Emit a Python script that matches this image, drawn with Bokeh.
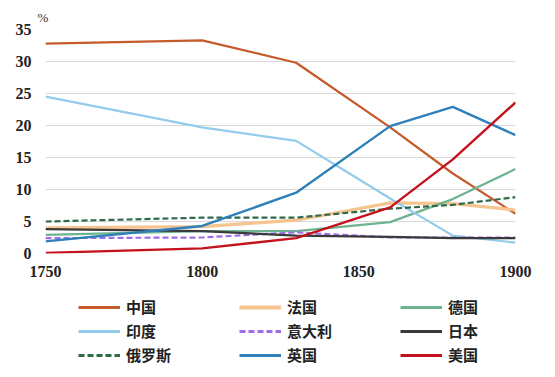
from bokeh.plotting import figure
from bokeh.layouts import column
from bokeh.models import Legend, LegendItem, Range1d, FixedTicker, Title
from bokeh.embed import file_html
from bokeh.resources import INLINE

years = [1750, 1800, 1830, 1860, 1880, 1900]
china = [32.8, 33.3, 29.8, 19.7, 12.5, 6.2]
france = [4.0, 4.2, 5.2, 7.9, 7.8, 6.8]
germany = [2.9, 3.5, 3.5, 4.9, 8.5, 13.2]
india = [24.5, 19.7, 17.6, 8.6, 2.8, 1.7]
italy = [2.4, 2.5, 3.3, 2.5, 2.5, 2.5]
japan = [3.8, 3.5, 2.8, 2.6, 2.4, 2.4]
russia = [5.0, 5.6, 5.6, 7.0, 7.6, 8.8]
uk = [1.9, 4.3, 9.5, 19.9, 22.9, 18.5]
usa = [0.1, 0.8, 2.4, 7.2, 14.7, 23.6]

names = ["中国", "法国", "德国", "印度", "意大利", "日本", "俄罗斯", "英国", "美国"]
series = [china, france, germany, india, italy, japan, russia, uk, usa]
colors = ["#C55A2B", "#F6C48F", "#6DB391", "#92CBEB", "#9F6CEA", "#3A3A3A", "#2F6B4B", "#2E80BA", "#C4121C"]
widths = [2.2, 3.2, 2.2, 2.2, 2.2, 2.2, 2.2, 2.4, 2.4]
dashes = ["solid", "solid", "solid", "solid", "6 3", "solid", "6 3", "solid", "solid"]

p = figure(width=555, height=290, output_backend="svg", toolbar_location=None,
           x_range=Range1d(1750, 1900), y_range=Range1d(0, 35),
           min_border_left=45, min_border_right=40, min_border_top=29, min_border_bottom=37)
p.outline_line_color = None
p.xgrid.grid_line_color = None
p.ygrid.grid_line_color = "#D9D9D9"
p.ygrid.grid_line_width = 1.2
p.yaxis.ticker = FixedTicker(ticks=[0, 5, 10, 15, 20, 25, 30, 35])
p.xaxis.ticker = FixedTicker(ticks=[1750, 1800, 1850, 1900])
for ax in (p.xaxis, p.yaxis):
    ax.axis_line_color = None
    ax.major_tick_line_color = None
    ax.minor_tick_line_color = None
    ax.major_label_text_font = "Liberation Serif"
    ax.major_label_text_font_size = "16px"
    ax.major_label_text_color = "#222222"
    ax.major_label_text_font_style = "bold"
p.yaxis.major_label_standoff = 8
p.xaxis.major_label_standoff = 6

for s, c, w, d in zip(series, colors, widths, dashes):
    p.line(years, s, line_color=c, line_width=w, line_dash=d)

p.add_layout(Title(text="%", align="left", offset=-8, text_font="Liberation Serif",
                   text_font_size="13px", text_font_style="normal",
                   text_color="#333333"), "above")

# legend figure (series drawn out of its view; only the legend shows)
lg = figure(width=555, height=87, output_backend="svg", toolbar_location=None,
            x_axis_type=None, y_axis_type=None, x_range=Range1d(0, 1), y_range=Range1d(0, 1),
            min_border_left=0, min_border_right=0, min_border_top=0, min_border_bottom=0)
lg.outline_line_color = None
lg.xgrid.grid_line_color = None
lg.ygrid.grid_line_color = None
lg_r = {}
for n, s, c, w, d in zip(names, series, colors, widths, dashes):
    lg_r[n] = lg.line(years, s, line_color=c, line_width=w + 0.6, line_dash=d)

# legend is filled column by column
order = ["中国", "印度", "俄罗斯", "法国", "意大利", "英国", "德国", "日本", "美国"]
items = [LegendItem(label=n, renderers=[lg_r[n]]) for n in order]

legend = Legend(items=items, ncols=3, location=(33, 12),
                glyph_width=42, glyph_height=20, label_height=20,
                label_width=110, label_standoff=6, spacing=3,
                padding=0, margin=0, border_line_color=None,
                background_fill_alpha=0,
                label_text_font="Noto Sans CJK SC", label_text_font_size="15px",
                label_text_font_style="bold", label_text_color="#222222")
lg.add_layout(legend, "center")

layout = column(p, lg, spacing=0)
open("out.html", "w").write(file_html(layout, INLINE))
